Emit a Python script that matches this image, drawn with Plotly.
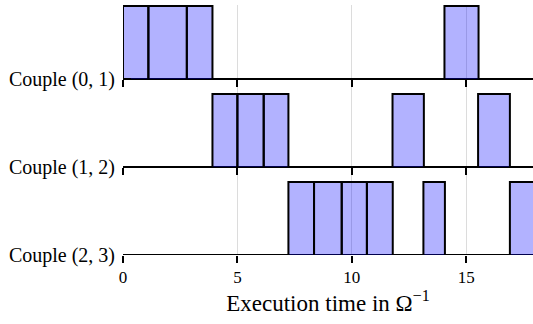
import plotly.graph_objects as go

couples = ["Couple (0, 1)", "Couple (1, 2)", "Couple (2, 3)"]
starts = [
    [0.0, 1.11, 2.79, 14.05],
    [3.91, 5.0, 6.15, 11.78, 15.52],
    [7.23, 8.35, 9.56, 10.66, 13.13, 16.91],
]
ends = [
    [1.11, 2.79, 3.91, 15.54],
    [5.0, 6.15, 7.23, 13.15, 16.91],
    [8.35, 9.56, 10.66, 11.79, 14.07, 18.5],
]
level = 1.0
x_ticks = [0, 5, 10, 15]
x_max = 17.92

FONT = "Liberation Serif"
# baseline position (paper fraction) and full band domain for each row
base_pos = [0.704, 0.352, 0.0]
band = [[0.648, 1.0], [0.296, 0.648], [0.0, 0.296]]
top = 1.015

fig = go.Figure()
for i, name in enumerate(couples):
    xa = "x" if i == 0 else f"x{i+1}"
    ya = "y" if i == 0 else f"y{i+1}"
    fig.add_trace(go.Scatter(x=[0, x_max + 1], y=[0, 0], mode="lines",
                             line=dict(color="black", width=2),
                             xaxis=xa, yaxis=ya, showlegend=False, hoverinfo="skip"))
    for s, e in zip(starts[i], ends[i]):
        fig.add_trace(go.Scatter(x=[s, s, e, e], y=[0, level, level, 0], mode="lines",
                                 fill="toself", fillcolor="rgba(0,0,255,0.3)",
                                 line=dict(color="black", width=2),
                                 xaxis=xa, yaxis=ya, showlegend=False, hoverinfo="skip"))
    axkey = "xaxis" if i == 0 else f"xaxis{i+1}"
    aykey = "yaxis" if i == 0 else f"yaxis{i+1}"
    d0, d1 = band[i]
    frac_box = (d1 - base_pos[i]) / (d1 - d0)
    ylo = -top * (1 - frac_box) / frac_box
    fig.layout[axkey] = dict(
        domain=[0, 1], anchor="free", position=base_pos[i], range=[0, x_max],
        tickvals=x_ticks, showticklabels=(i == 2),
        ticks="outside", ticklen=7, tickwidth=1.5, tickcolor="black",
        showgrid=True, gridcolor="#dcdcdc", gridwidth=1,
        zeroline=False, showline=False, automargin=False,
        tickfont=dict(family=FONT, size=17, color="black"),
        matches=None if i == 0 else "x",
    )
    fig.layout[aykey] = dict(
        domain=band[i], anchor=xa, range=[ylo, top],
        tickvals=[0], ticktext=[name],
        ticks="inside", ticklen=8, tickwidth=2, tickcolor="black",
        showgrid=False, zeroline=False, showline=False, automargin=False,
        tickfont=dict(family=FONT, size=20, color="black"),
        ticklabelstandoff=7,
    )

fig.layout.xaxis3.title = dict(text="Execution time in Ω<sup>−1</sup>",
                               font=dict(family=FONT, size=23, color="black"),
                               standoff=1)

fig.update_layout(
    width=533, height=324,
    margin=dict(l=123, r=0, t=5, b=69),
    plot_bgcolor="white", paper_bgcolor="white",
)

fig.write_html("out.html", config={"displayModeBar": False},
               post_script="document.body.style.margin='0';")
